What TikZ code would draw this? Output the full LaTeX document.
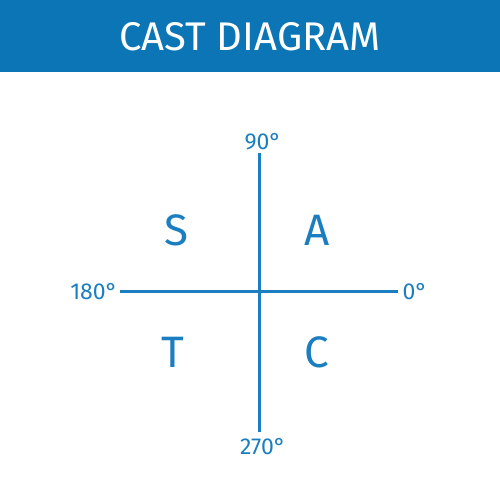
\documentclass[tikz,border=0pt]{standalone}
\usepackage{fontspec}
\setmainfont{Fira Sans}
\usepackage{tikz}
\definecolor{castblue}{HTML}{0B75B5}
\definecolor{axisblue}{HTML}{1A7EC0}
\tikzset{
    quadrant/.style={text=axisblue, font=\fontsize{22}{24}\selectfont},
    anglabel/.style={text=axisblue, font=\fontsize{11.5}{13}\selectfont},
    axis/.style={draw=axisblue, line width=1.5pt}
}

\begin{document}
\begin{tikzpicture}[x=0.5pt, y=-0.5pt]
            \useasboundingbox (0,0) rectangle (500,498);
            \fill[castblue] (0,0) rectangle (500,72);
            \node[text=white, font=\fontsize{20}{24}\selectfont] (title) at (250,37) {CAST DIAGRAM};
            % axes
            \coordinate (top) at (260,153);
            \coordinate (bottom) at (260,432);
            \coordinate (left) at (120,292);
            \coordinate (right) at (398,292);
            \draw[axis] (top) -- (bottom);
            \draw[axis] (left) -- (right);
            % angle labels
            \node[anglabel] (deg90) at (263,142) {90°};
            \node[anglabel] (deg180) at (94,292) {180°};
            \node[anglabel] (deg0) at (415,292) {0°};
            \node[anglabel] (deg270) at (263,447) {270°};
            % quadrants
            \node[quadrant] (qs) at (176,230) {S};
            \node[quadrant] (qa) at (317,230) {A};
            \node[quadrant] (qt) at (173,352) {T};
            \node[quadrant] (qc) at (317,352) {C};
        \end{tikzpicture}
\end{document}
